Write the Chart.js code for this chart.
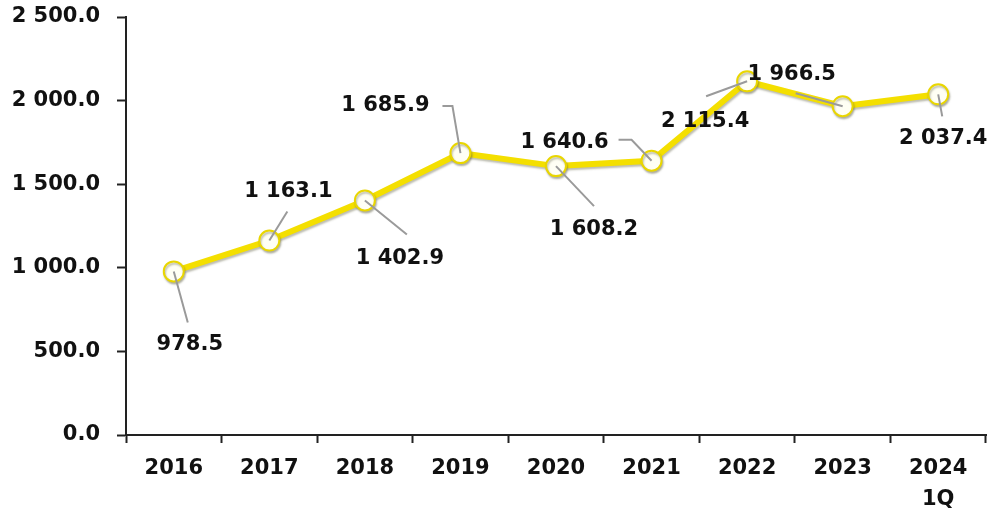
<!DOCTYPE html>
<html>
<head>
<meta charset="utf-8">
<script src="https://cdn.jsdelivr.net/npm/chart.js@4.4.1/dist/chart.umd.min.js"></script>
<style>
  html, body { margin: 0; padding: 0; background: #fff; }
  #wrap { width: 998px; height: 509px; }
</style>
</head>
<body>
<div id="wrap"><canvas id="grafico"></canvas></div>
<script>
const anos = ["2016", "2017", "2018", "2019", "2020", "2021", "2022", "2023", ["2024", "1Q"]]
const valores = [978.5, 1163.1, 1402.9, 1685.9, 1608.2, 1640.6, 2115.4, 1966.5, 2037.4]
const ticksY = [0, 500, 1000, 1500, 2000, 2500]

// onde fica cada rótulo em relação ao ponto: [dx, dy] do texto, fim da linha guia, cotovelo opcional
const posRotulos = [
    { txt: [16, 73], fim: [14, 51] },
    { txt: [19, -49], fim: [18, -29] },
    { txt: [35, 58], fim: [42, 34] },
    { txt: [-75, -48], fim: [-8, -47], cot: [-18, -47] },
    { txt: [38, 63], fim: [38, 40] },
    { txt: [-87, -18], fim: [-20, -21], cot: [-33, -21] },
    { txt: [-42, 40], fim: [-41, 15] },
    { txt: [-51, -32], fim: [-47, -13] },
    { txt: [5, 44], fim: [4, 22] }
]

function fmt(v) {
    const partes = v.toFixed(1).split(".")
    const inteiro = partes[0].replace(/\B(?=(\d{3})+(?!\d))/g, " ")
    return inteiro + "." + partes[1]
}

const fonte = "'DejaVu Sans', sans-serif"

// sombra cinza embaixo da linha amarela
const sombraLinha = {
    id: "sombraLinha",
    beforeDatasetDraw(chart) {
        const ctx = chart.ctx
        ctx.save()
        ctx.shadowColor = "rgba(90, 90, 60, 0.4)"
        ctx.shadowBlur = 2
        ctx.shadowOffsetX = 1
        ctx.shadowOffsetY = 2
    },
    afterDatasetDraw(chart) {
        chart.ctx.restore()
    }
}

// rótulos com linha guia
const rotulos = {
    id: "rotulos",
    afterDatasetsDraw(chart) {
        const ctx = chart.ctx
        const pontos = chart.getDatasetMeta(0).data
        ctx.save()
        pontos.forEach((p, i) => {
            const r = posRotulos[i]
            ctx.strokeStyle = "#9a9a9a"
            ctx.lineWidth = 2
            ctx.beginPath()
            ctx.moveTo(p.x, p.y)
            ctx.lineTo(p.x + r.fim[0], p.y + r.fim[1])
            if (r.cot) ctx.lineTo(p.x + r.cot[0], p.y + r.cot[1])
            ctx.stroke()

            ctx.fillStyle = "#111"
            ctx.font = "bold 21px " + fonte
            ctx.textAlign = "center"
            ctx.textBaseline = "middle"
            ctx.fillText(fmt(valores[i]), p.x + r.txt[0], p.y + r.txt[1])
        })
        ctx.restore()
    }
}

new Chart(document.getElementById("grafico"), {
    type: "line",
    data: {
        labels: anos,
        datasets: [{
            data: valores,
            borderColor: "#f4df00",
            borderWidth: 6,
            tension: 0,
            pointRadius: 10,
            pointHoverRadius: 10,
            pointBackgroundColor: "#fffff4",
            pointBorderColor: "#e9d600",
            pointBorderWidth: 2
        }]
    },
    options: {
        responsive: true,
        maintainAspectRatio: false,
        animation: false,
        layout: { padding: { top: 17, right: 11, left: 0, bottom: 0 } },
        plugins: {
            legend: { display: false },
            tooltip: { enabled: false }
        },
        scales: {
            x: {
                offset: true,
                afterFit: s => { s.height = 74 },
                grid: {
                    offset: true,
                    drawOnChartArea: false,
                    drawTicks: true,
                    tickLength: 8,
                    tickWidth: 2,
                    tickColor: "#222"
                },
                border: { color: "#222", width: 2 },
                ticks: {
                    color: "#111",
                    padding: 10,
                    maxRotation: 0,
                    font: { family: fonte, size: 21, weight: "bold", lineHeight: 1.47 }
                }
            },
            y: {
                min: 0,
                max: 2500,
                afterFit: s => {
                    s.width = 126
                    s.paddingTop = 10
                    s.paddingBottom = 10
                },
                afterBuildTicks: s => { s.ticks = ticksY.map(v => ({ value: v })) },
                grid: {
                    drawOnChartArea: false,
                    drawTicks: true,
                    tickLength: 9,
                    tickWidth: 2,
                    tickColor: "#222"
                },
                border: { color: "#222", width: 2 },
                ticks: {
                    color: "#111",
                    padding: 17,
                    callback: v => fmt(v),
                    font: { family: fonte, size: 21, weight: "bold" }
                }
            }
        }
    },
    plugins: [sombraLinha, rotulos]
})
</script>
</body>
</html>
